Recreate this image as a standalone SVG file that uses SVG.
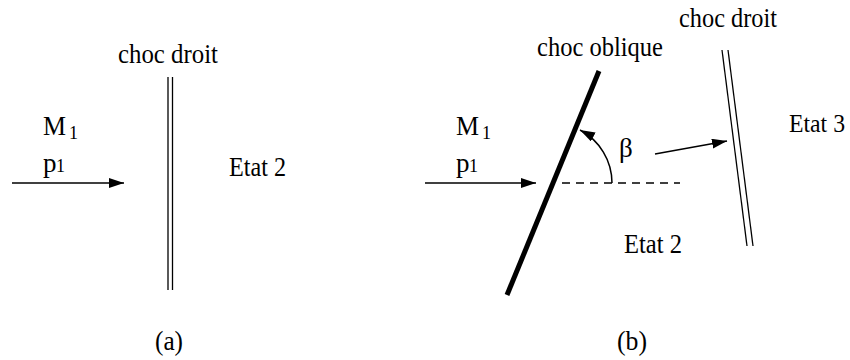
<svg xmlns="http://www.w3.org/2000/svg" width="850" height="360" viewBox="0 0 850 360">
<defs>
<style>
.t{font-size:27px;}
.s{font-size:18px;}
.ln{stroke:#000;stroke-width:1.3;fill:none;}
.ar{stroke:#000;stroke-width:1.5;fill:none;marker-end:url(#ah);}
</style>
<marker id="ah" markerUnits="userSpaceOnUse" markerWidth="16" markerHeight="12" refX="15" refY="5" orient="auto">
<path d="M0,0 L15,5 L0,10 z" fill="#000"/>
</marker>
</defs>
<rect width="850" height="360" fill="#fff"/>

<g font-family="'Liberation Serif', 'Times New Roman', 'DejaVu Serif', serif" fill="#000">
<g id="part-a">
<g id="a-shock">
<line class="ln" x1="168" y1="77" x2="168" y2="290"/>
<line class="ln" x1="172.5" y1="77" x2="172.5" y2="290"/>
<text class="t" x="118" y="63" textLength="100" lengthAdjust="spacingAndGlyphs">choc droit</text>
</g>
<g id="a-state1">
<text class="t" x="43" y="135" textLength="23" lengthAdjust="spacingAndGlyphs">M</text>
<text class="s" x="69" y="139">1</text>
<text class="t" x="43" y="172">p</text>
<text class="s" x="56" y="172">1</text>
</g>
<g id="a-state2">
<text class="t" x="229" y="176" textLength="57" lengthAdjust="spacingAndGlyphs">Etat 2</text>
</g>
<text class="t" x="155" y="350" textLength="28" lengthAdjust="spacingAndGlyphs">(a)</text>
</g>

<g id="part-b">
<g id="b-oblique">
<line x1="599" y1="71" x2="507" y2="295" stroke="#000" stroke-width="5"/>
<text class="t" x="537" y="56" textLength="126" lengthAdjust="spacingAndGlyphs">choc oblique</text>
</g>
<g id="b-droit">
<line class="ln" x1="722" y1="50" x2="747" y2="246"/>
<line class="ln" x1="728" y1="50" x2="753" y2="246"/>
<text class="t" x="679" y="27" textLength="98" lengthAdjust="spacingAndGlyphs">choc droit</text>
</g>
<g id="b-state1">
<text class="t" x="456" y="135" textLength="23" lengthAdjust="spacingAndGlyphs">M</text>
<text class="s" x="482" y="139">1</text>
<text class="t" x="456" y="172">p</text>
<text class="s" x="469" y="172">1</text>
</g>
<g id="b-state2">
<text class="t" x="624" y="253" textLength="58" lengthAdjust="spacingAndGlyphs">Etat 2</text>
</g>
<g id="b-state3">
<text x="789" y="132" font-size="25" textLength="56" lengthAdjust="spacingAndGlyphs">Etat 3</text>
</g>
<text class="t" x="619" y="157">β</text>
<text class="t" x="617" y="350" textLength="30" lengthAdjust="spacingAndGlyphs">(b)</text>
</g>
</g>

<g id="connectors">
<line class="ar" x1="12" y1="183" x2="124" y2="183"/>
<line class="ar" x1="425" y1="183" x2="536" y2="183"/>
<line class="ln" x1="562" y1="183" x2="680" y2="183" stroke-dasharray="8 6"/>
<path class="ar" d="M612,183 A60,60 0 0 0 580,130"/>
<line class="ar" x1="655" y1="154" x2="727" y2="141"/>
</g>
</svg>
